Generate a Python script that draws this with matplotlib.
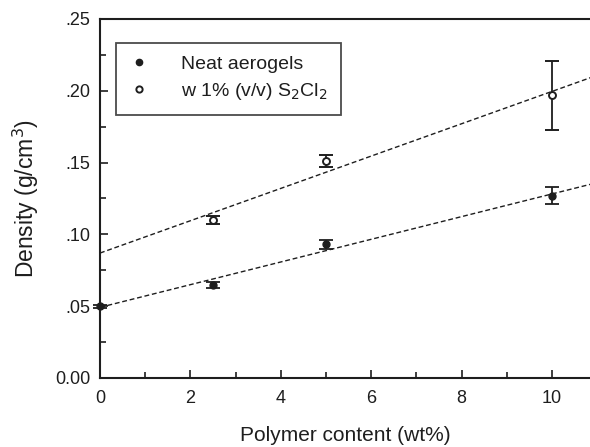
import matplotlib
matplotlib.use("Agg")
import matplotlib.pyplot as plt
from matplotlib.lines import Line2D
from matplotlib.ticker import MultipleLocator, FixedLocator
import numpy as np

plt.rcParams["font.family"] = ["Liberation Sans", "DejaVu Sans"]

neat_x = [0, 2.5, 5, 10]
neat_y = [0.050, 0.065, 0.093, 0.127]
neat_err = [0.001, 0.002, 0.003, 0.006]

s2cl2_x = [2.5, 5, 10]
s2cl2_y = [0.110, 0.151, 0.197]
s2cl2_err = [0.003, 0.004, 0.024]

y_ticks = [0.0, 0.05, 0.10, 0.15, 0.20, 0.25]
y_labels = ["0.00", ".05", ".10", ".15", ".20", ".25"]

ink = "#1e1e1e"

fig = plt.figure(figsize=(5.9, 4.47), dpi=100)
ax = fig.add_axes([0.1695, 0.1544, 0.8305, 0.8031])

# linear fits through each series
x_fit = np.linspace(0, 11, 50)
for xs, ys in ((neat_x, neat_y), (s2cl2_x, s2cl2_y)):
    p = np.polyfit(xs, ys, 1)
    ax.plot(x_fit, np.polyval(p, x_fit), color=ink, lw=1.0,
            ls=(0, (3.5, 2)), zorder=2)

ax.errorbar(neat_x, neat_y, yerr=neat_err, fmt="o", ms=5, color=ink,
            mfc=ink, capsize=5, elinewidth=1.3, capthick=1.3,
            clip_on=False, zorder=3)
ax.errorbar(s2cl2_x, s2cl2_y, yerr=s2cl2_err, fmt="o", ms=5, color=ink,
            mfc="white", mew=1.4, capsize=5, elinewidth=1.3, capthick=1.3,
            clip_on=False, zorder=3)

ax.set_xlim(0, 10.84)
ax.set_ylim(0, 0.25)
ax.xaxis.set_major_locator(MultipleLocator(2))
ax.xaxis.set_minor_locator(MultipleLocator(1))
ax.yaxis.set_major_locator(FixedLocator(y_ticks))
ax.set_yticklabels(y_labels)
ax.yaxis.set_minor_locator(MultipleLocator(0.025))
ax.tick_params(which="both", direction="in", color=ink, width=1.2,
               labelsize=13, labelcolor=ink)
ax.tick_params(which="major", length=6, pad=9)
ax.tick_params(which="minor", length=4)
ax.tick_params(axis="y", pad=7)
for side in ("left", "bottom", "top"):
    ax.spines[side].set_linewidth(1.5)
    ax.spines[side].set_color(ink)
ax.spines["right"].set_visible(False)

ax.set_xlabel("Polymer content (wt%)", fontsize=15, color=ink, labelpad=13)
ax.set_ylabel("Density (g/cm$^3$)", fontsize=16.5, color=ink, labelpad=10)

handles = [
    Line2D([], [], ls="none", marker="o", ms=4.5, color=ink, mfc=ink),
    Line2D([], [], ls="none", marker="o", ms=4.5, color=ink, mfc="white", mew=1.4),
]
labels = ["Neat aerogels", "w 1% (v/v) S$_2$Cl$_2$"]
leg = ax.legend(handles, labels, loc="upper left", bbox_to_anchor=(0.033, 0.933),
                fontsize=14, frameon=True, fancybox=False, handlelength=1.0,
                handletextpad=1.7, borderpad=0.65, labelspacing=0.4,
                borderaxespad=0)
leg.get_frame().set_edgecolor(ink)
leg.get_frame().set_linewidth(1.3)
for t in leg.get_texts():
    t.set_color(ink)

fig.savefig("out.png", dpi=100)
